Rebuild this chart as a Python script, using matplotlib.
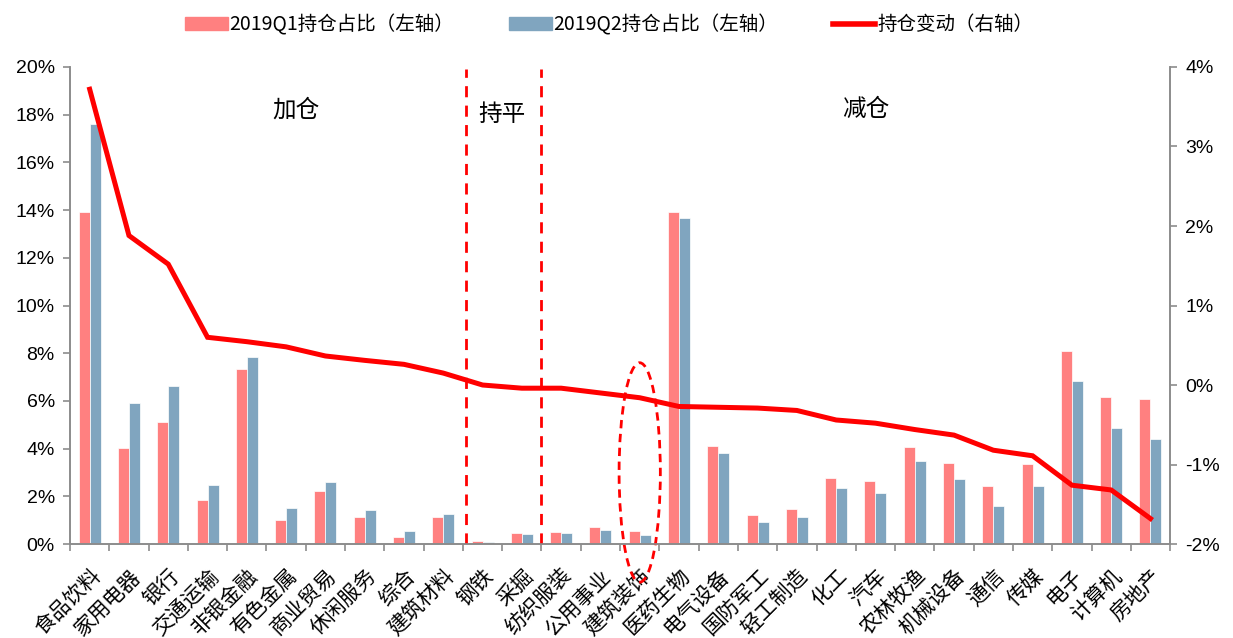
import matplotlib
matplotlib.use("Agg")
import matplotlib.pyplot as plt
from matplotlib.patches import Ellipse, Patch
from matplotlib.lines import Line2D
from matplotlib.ticker import PercentFormatter, FixedLocator
import numpy as np

plt.rcParams['font.family'] = ['Noto Sans CJK SC', 'DejaVu Sans']
plt.rcParams['axes.unicode_minus'] = False

# 行业持仓数据
industries = ["食品饮料", "家用电器", "银行", "交通运输", "非银金融", "有色金属", "商业贸易",
              "休闲服务", "综合", "建筑材料", "钢铁", "采掘", "纺织服装", "公用事业", "建筑装饰",
              "医药生物", "电气设备", "国防军工", "轻工制造", "化工", "汽车", "农林牧渔",
              "机械设备", "通信", "传媒", "电子", "计算机", "房地产"]

q1_share = [13.9, 4.04, 5.13, 1.84, 7.32, 1.00, 2.24, 1.12, 0.29, 1.15, 0.12, 0.45, 0.50, 0.71,
            0.53, 13.93, 4.11, 1.22, 1.45, 2.78, 2.63, 4.05, 3.38, 2.45, 3.35, 8.09, 6.18, 6.09]
q2_share = [17.6, 5.92, 6.62, 2.47, 7.86, 1.50, 2.59, 1.43, 0.56, 1.26, 0.10, 0.41, 0.45, 0.59,
            0.38, 13.65, 3.82, 0.91, 1.12, 2.35, 2.14, 3.48, 2.74, 1.61, 2.45, 6.83, 4.85, 4.41]
change = [3.72, 1.88, 1.52, 0.60, 0.545, 0.48, 0.365, 0.31, 0.26, 0.15, 0.0, -0.04, -0.04, -0.10,
          -0.16, -0.27, -0.28, -0.29, -0.32, -0.44, -0.48, -0.56, -0.63, -0.82, -0.89, -1.26,
          -1.32, -1.68]

zones = ["加仓", "持平", "减仓"]

pink = "#FF8080"
blue = "#80A5BF"
red = "#FF0000"
grey = "#8C8C8C"

x = np.arange(len(industries))
w = 0.28

fig = plt.figure(figsize=(12.33, 6.38), dpi=100)
ax = fig.add_axes([0.0568, 0.1473, 0.8922, 0.7477])
ax2 = ax.twinx()

ax.bar(x - w / 2, q1_share, w, color=pink, edgecolor="white", linewidth=0.5)
ax.bar(x + w / 2, q2_share, w, color=blue, edgecolor="white", linewidth=0.5)
ax2.plot(x, change, color=red, linewidth=3.6, solid_joinstyle="miter")

ax.set_xlim(-0.5, len(industries) - 0.5)
ax.set_ylim(0, 20)
ax2.set_ylim(-2, 4)
ax.set_yticks(np.arange(0, 21, 2))
ax2.set_yticks(np.arange(-2, 5, 1))
ax.yaxis.set_major_formatter(PercentFormatter(decimals=0))
ax2.yaxis.set_major_formatter(PercentFormatter(decimals=0))

ax.set_xticks(x)
ax.set_xticklabels(industries, rotation=45, ha="right", va="top",
                   rotation_mode="anchor", fontsize=15)
ax.xaxis.set_minor_locator(FixedLocator(np.arange(-0.5, len(industries), 1)))
ax.tick_params(axis="x", which="major", length=0, pad=15)
ax.tick_params(axis="x", which="minor", length=5, width=1.2, color=grey)

for a in (ax, ax2):
    for s in a.spines.values():
        s.set_color(grey)
        s.set_linewidth(1.2)
    a.spines["top"].set_visible(False)
ax.tick_params(axis="y", length=5, width=1.2, color=grey, labelsize=14, pad=6)
ax2.tick_params(axis="y", length=5, width=1.2, color=grey, labelsize=14, pad=6)
for lab in ax.get_yticklabels() + ax2.get_yticklabels():
    lab.set_family(["Liberation Sans", "DejaVu Sans"])

# 分区虚线与标注
for bx in (9.58, 11.5):
    ax.plot([bx, bx], [0, 19.9], color=red, linestyle=(0, (4, 3)), linewidth=2, zorder=5)
ax.text(5.25, 18.2, zones[0], fontsize=17, ha="center", va="center")
ax.text(10.5, 18.0, zones[1], fontsize=17, ha="center", va="center")
ax.text(19.76, 18.2, zones[2], fontsize=17, ha="center", va="center")

ax.add_patch(Ellipse((14, 3.0), 1.05, 9.2, fill=False, edgecolor=red,
                     linestyle=(0, (3, 2)), linewidth=2, clip_on=False, zorder=6))

handles = [Patch(color=pink), Patch(color=blue), Line2D([], [], color=red, linewidth=4)]
labels = ["2019Q1持仓占比（左轴）", "2019Q2持仓占比（左轴）", "持仓变动（右轴）"]
fig.legend(handles, labels, loc="upper center", bbox_to_anchor=(0.494, 1.005), ncol=3,
           frameon=False, fontsize=14, handlelength=2.2, handleheight=0.7,
           columnspacing=2.8, handletextpad=0.1)

fig.savefig("out.png", dpi=100)
